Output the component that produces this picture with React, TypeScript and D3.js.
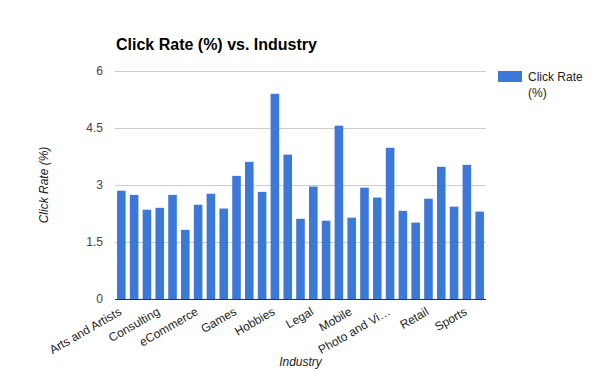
import { useEffect, useRef } from 'react';
import * as d3 from 'd3';

const INDUSTRIES = [
  'Arts and Artists', 'Beauty and Personal Care', 'Business and Finance',
  'Consulting', 'Creative Services/Agency', 'Daily Deals/E-Coupons',
  'eCommerce', 'Education and Training', 'Entertainment and Events',
  'Games', 'Government', 'Health and Fitness',
  'Hobbies', 'Home and Garden', 'Insurance',
  'Legal', 'Manufacturing', 'Marketing and Advertising',
  'Mobile', 'Music and Musicians', 'Non-Profit',
  'Photo and Video', 'Politics', 'Real Estate',
  'Retail', 'Social Networks', 'Software and Web App',
  'Sports', 'Travel and Transportation',
];

const CLICK_RATE = [
  2.85, 2.74, 2.35, 2.40, 2.74, 1.82, 2.48, 2.77, 2.38, 3.24,
  3.61, 2.82, 5.40, 3.80, 2.11, 2.96, 2.06, 4.56, 2.14, 2.93,
  2.67, 3.98, 2.32, 2.01, 2.64, 3.48, 2.43, 3.53, 2.30,
];

const Y_TICKS = [0, 1.5, 3, 4.5, 6];

const FONT = 'Arial, "Liberation Sans", sans-serif';
const BAR = '#3c78d8';

export default function App() {
  const ref = useRef<SVGSVGElement>(null);

  useEffect(() => {
    if (!ref.current) return;
    const svg = d3.select(ref.current);
    svg.selectAll('*').remove();

    const W = 600, H = 371;
    const left = 115, right = 486, top = 71, bottom = 299;

    const x = d3.scaleBand<string>().domain(INDUSTRIES).range([left, right]).paddingInner(0.33).paddingOuter(0.16);
    const y = d3.scaleLinear().domain([0, 6]).range([bottom, top]);

    svg.append('rect').attr('width', W).attr('height', H).attr('fill', '#fff');

    // grid
    svg.append('g').selectAll('line')
      .data(Y_TICKS.filter(d => d > 0))
      .join('line')
      .attr('x1', left).attr('x2', right)
      .attr('y1', d => y(d)).attr('y2', d => y(d))
      .attr('stroke', '#cccccc').attr('stroke-width', 1)
      .attr('shape-rendering', 'crispEdges');

    svg.append('g').selectAll('text')
      .data(Y_TICKS)
      .join('text')
      .attr('x', 103).attr('y', d => y(d)).attr('dy', '0.35em')
      .attr('text-anchor', 'end')
      .attr('font-family', FONT).attr('font-size', 12).attr('fill', '#444')
      .text(d => String(d));

    // bars
    svg.append('g').selectAll('rect')
      .data(CLICK_RATE)
      .join('rect')
      .attr('x', (_, i) => x(INDUSTRIES[i])!)
      .attr('width', x.bandwidth())
      .attr('y', d => y(d))
      .attr('height', d => y(0) - y(d))
      .attr('fill', BAR);

    // baseline
    svg.append('line')
      .attr('x1', left).attr('x2', right)
      .attr('y1', y(0)).attr('y2', y(0))
      .attr('stroke', '#333').attr('stroke-width', 1)
      .attr('shape-rendering', 'crispEdges');

    // category labels, every third one
    const trunc = (s: string) => (s.length > 14 ? s.slice(0, 12) + '\u2026' : s);
    INDUSTRIES.forEach((name, i) => {
      if (i % 3 !== 0) return;
      const cx = x(name)! + x.bandwidth() / 2;
      svg.append('text')
        .attr('transform', `translate(${cx + 1},${bottom + 15}) rotate(-30)`)
        .attr('text-anchor', 'end')
        .attr('font-family', FONT).attr('font-size', 12).attr('fill', '#222')
        .text(name === 'Arts and Artists' ? name : trunc(name));
    });

    // titles
    svg.append('text').attr('x', 116).attr('y', 50)
      .attr('font-family', FONT).attr('font-size', 16).attr('font-weight', 'bold').attr('fill', '#000')
      .text('Click Rate (%) vs. Industry');

    svg.append('text').attr('x', (left + right) / 2).attr('y', 366)
      .attr('text-anchor', 'middle').attr('font-style', 'italic')
      .attr('font-family', FONT).attr('font-size', 12).attr('fill', '#222')
      .text('Industry');

    svg.append('text')
      .attr('transform', `translate(48,${(top + bottom) / 2}) rotate(-90)`)
      .attr('text-anchor', 'middle').attr('font-style', 'italic')
      .attr('font-family', FONT).attr('font-size', 12).attr('fill', '#222')
      .text('Click Rate (%)');

    // legend
    const lg = svg.append('g').attr('transform', 'translate(498,71)');
    lg.append('rect').attr('width', 24).attr('height', 11).attr('fill', BAR);
    lg.append('text').attr('x', 30).attr('y', 10)
      .attr('font-family', FONT).attr('font-size', 12).attr('fill', '#222').text('Click Rate');
    lg.append('text').attr('x', 30).attr('y', 26)
      .attr('font-family', FONT).attr('font-size', 12).attr('fill', '#222').text('(%)');
  }, []);

  return <svg ref={ref} width={600} height={371} style={{ position: 'absolute', left: 0, top: 0 }} />;
}
